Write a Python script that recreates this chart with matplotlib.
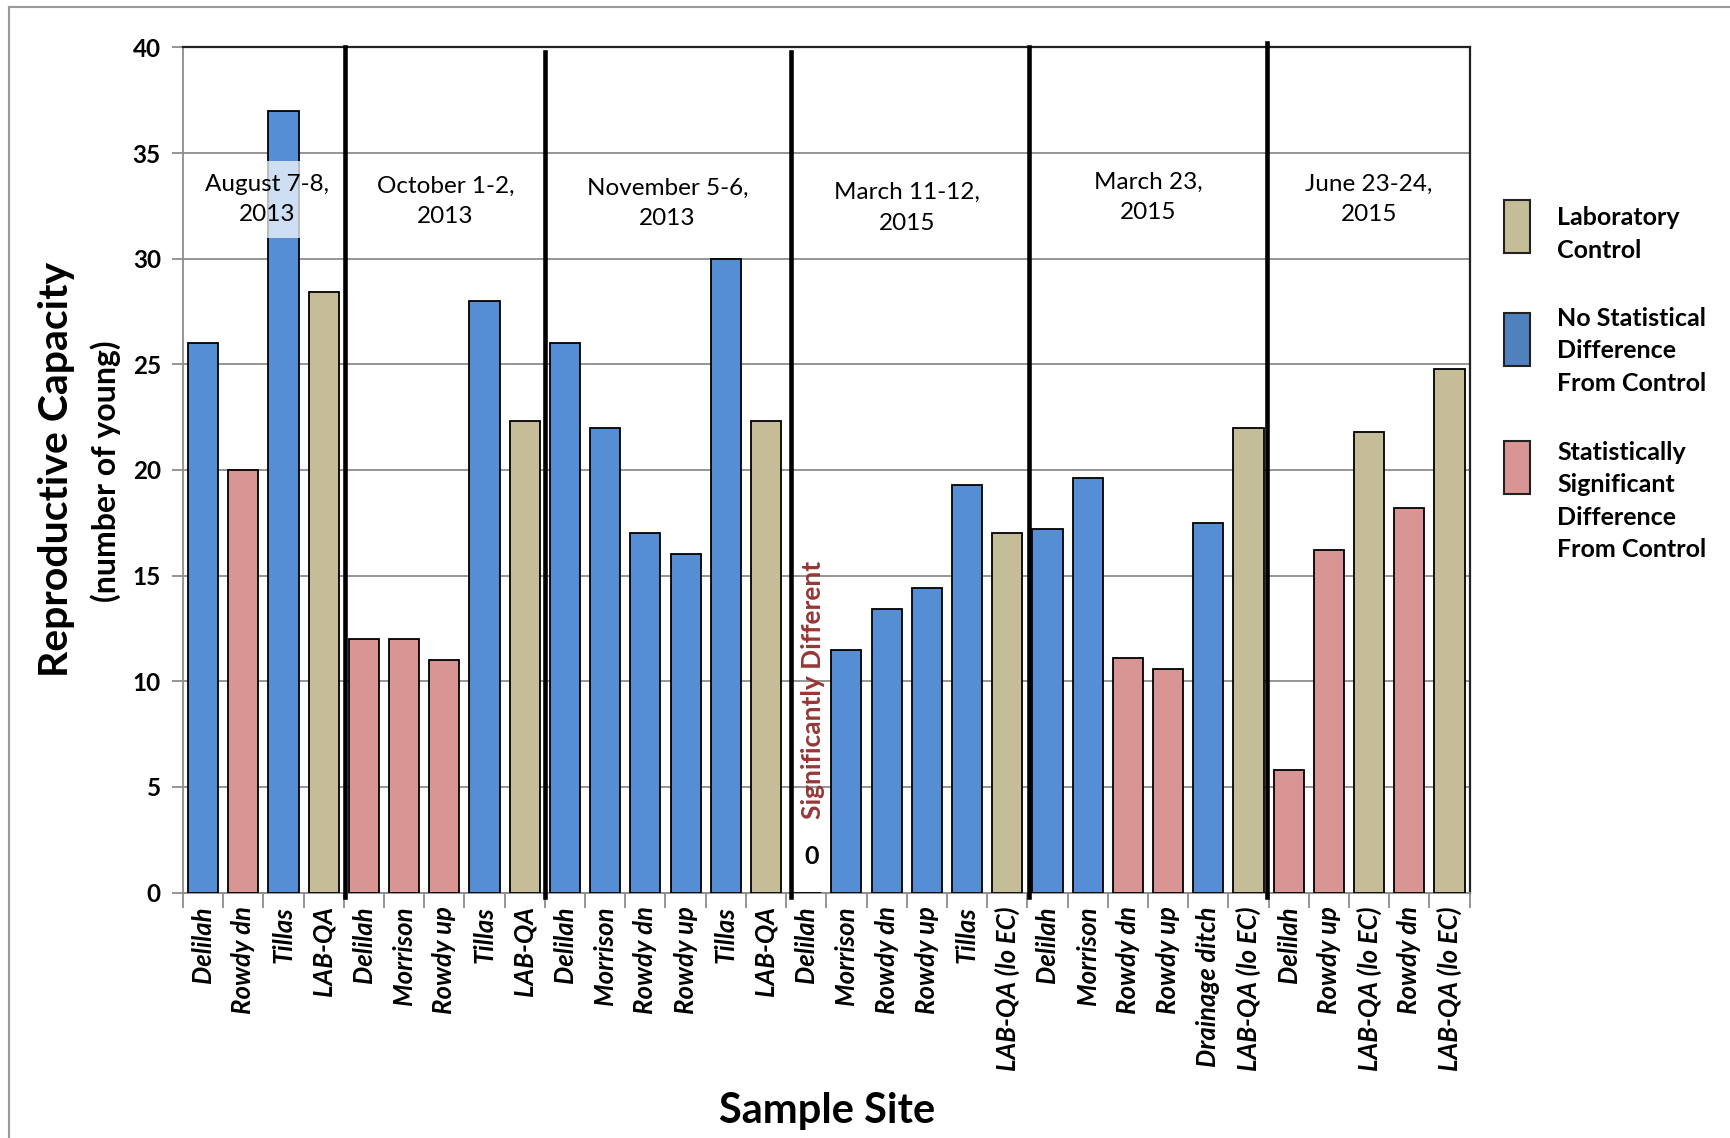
import matplotlib
matplotlib.use("Agg")
import matplotlib.pyplot as plt
from matplotlib.patches import Rectangle
from matplotlib.lines import Line2D

plt.rcParams['font.family'] = ['Lato', 'DejaVu Sans']

# ---------------- data ----------------
sites = ["Delilah", "Rowdy dn", "Tillas", "LAB-QA",
         "Delilah", "Morrison", "Rowdy up", "Tillas", "LAB-QA",
         "Delilah", "Morrison", "Rowdy dn", "Rowdy up", "Tillas", "LAB-QA",
         "Delilah", "Morrison", "Rowdy dn", "Rowdy up", "Tillas", "LAB-QA (lo EC)",
         "Delilah", "Morrison", "Rowdy dn", "Rowdy up", "Drainage ditch", "LAB-QA (lo EC)",
         "Delilah", "Rowdy up", "LAB-QA (lo EC)", "Rowdy dn", "LAB-QA (lo EC)"]
values = [26, 20, 37, 28.4,
          12, 12, 11, 28, 22.3,
          26, 22, 17, 16, 30, 22.3,
          0, 11.5, 13.4, 14.4, 19.3, 17.0,
          17.2, 19.6, 11.1, 10.6, 17.5, 22.0,
          5.8, 16.2, 21.8, 18.2, 24.8]
# L = laboratory control, N = no statistical difference, S = significant difference
status = ["N", "S", "N", "L",
          "S", "S", "S", "N", "L",
          "N", "N", "N", "N", "N", "L",
          "S", "N", "N", "N", "N", "L",
          "N", "N", "S", "S", "N", "L",
          "S", "S", "L", "S", "L"]
group_labels = ["August 7-8,\n2013", "October 1-2,\n2013", "November 5-6,\n2013",
                "March 11-12,\n2015", "March 23,\n2015", "June 23-24,\n2015"]
group_sizes = [4, 5, 6, 6, 6, 5]
y_ticks = [0, 5, 10, 15, 20, 25, 30, 35, 40]
legend_labels = ["Laboratory\nControl",
                 "No Statistical\nDifference\nFrom Control",
                 "Statistically\nSignificant\nDifference\nFrom Control"]

# ---------------- styles ----------------
bar_colors = {"L": "#C4BD97", "N": "#558ED5", "S": "#D99594"}
legend_colors = ["#C4BD97", "#4F81BD", "#D99594"]

W, H = 1730, 1138
fig = plt.figure(figsize=(W / 100, H / 100), dpi=100)
ax = fig.add_axes([183 / W, 1 - 892.5 / H, (1469.6 - 183) / W, (892.5 - 47.4) / H])

xs = list(range(len(values)))
ax.bar(xs, values, width=0.75, color=[bar_colors[s] for s in status],
       edgecolor="black", linewidth=1.3, zorder=3)

ax.set_xlim(-0.5, len(values) - 0.5)
ax.set_ylim(0, 40)
ax.set_yticks(y_ticks)
ax.set_yticklabels([str(t) for t in y_ticks], fontsize=17.5, fontweight="bold")
ax.yaxis.grid(True, color="#8c8c8c", linewidth=1.3, zorder=0)
ax.set_axisbelow(True)

# x ticks at category boundaries (marks), labels at bar centres
ax.set_xticks([i + 0.5 for i in range(-1, len(values))], minor=False)
ax.set_xticklabels([])
ax.set_xticks(xs, minor=True)
ax.set_xticklabels(sites, minor=True, rotation=90, fontsize=18.5, fontstyle="italic",
                   fontweight="bold", va="top", ha="center")
ax.tick_params(axis="x", which="major", length=11, color="#8c8c8c", width=1.3)
ax.tick_params(axis="x", which="minor", length=0, pad=10)
ax.tick_params(axis="y", length=8, color="#8c8c8c", width=1.3, pad=8)

for side in ["left", "bottom"]:
    ax.spines[side].set_color("#8c8c8c")
    ax.spines[side].set_linewidth(1.3)
for side in ["top", "right"]:
    ax.spines[side].set_color("#222222")
    ax.spines[side].set_linewidth(1.6)

# group separators
bounds = []
acc = 0
for g in group_sizes[:-1]:
    acc += g
    bounds.append(acc - 0.5)
sep_offsets = [0.03, 0.0, 0.12, 0.05, -0.05]
sep_tops = [1.0, 0.995, 0.995, 1.0, 1.005]
for b, off, top in zip(bounds, sep_offsets, sep_tops):
    ax.add_line(Line2D([b + off, b + off], [-0.005, top],
                       transform=ax.get_xaxis_transform(), color="black",
                       linewidth=3.3, zorder=5, clip_on=False))

# group labels
label_pos = [(1.586, 32.8), (6.03, 32.7), (11.55, 32.6), (17.5, 32.4), (23.5, 32.9), (29.0, 32.8)]
for lab, (gx, gy) in zip(group_labels, label_pos):
    kw = {}
    if lab.startswith("August"):
        kw["bbox"] = dict(facecolor="white", alpha=0.72, edgecolor="none", pad=9)
    ax.text(gx, gy, lab, ha="center", va="center", fontsize=17.5,
            linespacing=1.55, zorder=6, **kw)

# zero-value annotation
ax.text(15.17, 9.6, "Significantly Different", rotation=90, ha="center", va="center",
        fontsize=19, fontweight="bold", color="#953735", zorder=6)
ax.text(15.14, 1.7, "0", ha="center", va="center", fontsize=18, fontweight="bold", zorder=6)

# axis titles
fig.text(57 / W, 1 - 469 / H, "Reproductive Capacity", rotation=90, ha="center",
         va="center", fontsize=29.5, fontweight="bold")
fig.text(106 / W, 1 - 471 / H, "(number of young)", rotation=90, ha="center",
         va="center", fontsize=23, fontweight="bold")
fig.text(827 / W, 1 - 1111 / H, "Sample Site", ha="center", va="center",
         fontsize=30, fontweight="bold")

# legend
patch_tops = [200, 313, 441]
text_centers = [234, 351, 501]
for lab, col, pt, tc in zip(legend_labels, legend_colors, patch_tops, text_centers):
    fig.patches.append(Rectangle((1504 / W, 1 - (pt + 53) / H), 26 / W, 53 / H,
                                 transform=fig.transFigure, facecolor=col,
                                 edgecolor="#222222", linewidth=1.5))
    fig.text(1557 / W, 1 - tc / H, lab, ha="left", va="center", fontsize=18,
             fontweight="bold", linespacing=1.5)

# outer frame (left and top edges)
fig.add_artist(Line2D([9 / W, 9 / W], [0, 1 - 7 / H], transform=fig.transFigure,
                      color="#999999", linewidth=1.5))
fig.add_artist(Line2D([9 / W, 1], [1 - 7 / H, 1 - 7 / H], transform=fig.transFigure,
                      color="#999999", linewidth=1.5))

fig.savefig("out.png", dpi=100, facecolor="white")
